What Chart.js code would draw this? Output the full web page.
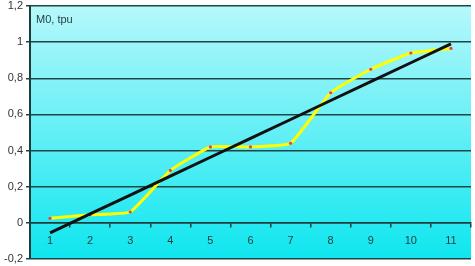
<!DOCTYPE html>
<html>
<head>
<meta charset="utf-8">
<script src="https://cdn.jsdelivr.net/npm/chart.js@4.4.1/dist/chart.umd.min.js"></script>
<style>
    html, body { margin: 0; padding: 0; background: #ffffff; }
    #wrap { width: 475px; height: 266px; position: relative; }
</style>
</head>
<body>
<div id="wrap"><canvas id="grafik"></canvas></div>
<script>
// data
let kategori = ["1", "2", "3", "4", "5", "6", "7", "8", "9", "10", "11"];
let nilai_m0 = [0.025, 0.045, 0.06, 0.29, 0.42, 0.42, 0.44, 0.72, 0.85, 0.94, 0.965];
let nilai_trend = [-0.055, 0.05, 0.154, 0.259, 0.363, 0.468, 0.572, 0.677, 0.781, 0.886, 0.99];
let tick_y = [-0.2, 0, 0.2, 0.4, 0.6, 0.8, 1, 1.2];

// cyan gradient behind the plot area
const latarPlot = {
    id: "latarPlot",
    beforeDraw: function (chart) {
        let ctx = chart.ctx;
        let a = chart.chartArea;
        let grad = ctx.createLinearGradient(0, a.top, 0, a.bottom);
        grad.addColorStop(0, "#b6f8fb");
        grad.addColorStop(1, "#0fe6ef");
        ctx.save();
        ctx.fillStyle = grad;
        ctx.fillRect(a.left, a.top, a.right - a.left, a.bottom - a.top);
        ctx.restore();
    },
    afterDraw: function (chart) {
        let ctx = chart.ctx;
        let a = chart.chartArea;
        ctx.save();
        ctx.font = "11px 'Liberation Sans', Arial, sans-serif";
        ctx.fillStyle = "#1e3c3c";
        ctx.textBaseline = "middle";
        ctx.fillText("M0, tpu", a.left + 6, 20);
        ctx.restore();
    },
};

new Chart(document.getElementById("grafik"), {
    type: "line",
    data: {
        labels: kategori,
        datasets: [
            {
                label: "M0",
                data: nilai_m0,
                borderColor: "#ffff00",
                borderWidth: 3,
                tension: 0.12,
                pointRadius: 1.6,
                pointBackgroundColor: "#e0405a",
                pointBorderWidth: 0,
                order: 2,
            },
            {
                label: "trend",
                data: nilai_trend,
                borderColor: "#111111",
                borderWidth: 3,
                tension: 0,
                pointRadius: 0,
                order: 1,
            },
        ],
    },
    options: {
        responsive: true,
        maintainAspectRatio: false,
        animation: false,
        layout: { padding: { left: 0, right: 2, top: 6, bottom: 7 } },
        plugins: {
            legend: { display: false },
            tooltip: { enabled: false },
        },
        scales: {
            x: {
                position: { y: 0 },
                offset: true,
                grid: {
                    offset: true,
                    drawOnChartArea: false,
                    drawTicks: true,
                    tickLength: 4,
                    color: "#1e3c3c",
                    lineWidth: 1.5,
                },
                border: { color: "#1e3c3c", width: 1.5 },
                ticks: {
                    color: "#1e3c3c",
                    padding: 8,
                    maxRotation: 0,
                    font: { family: "'Liberation Sans', Arial, sans-serif", size: 11 },
                },
            },
            y: {
                min: -0.2,
                max: 1.2,
                afterBuildTicks: function (scale) {
                    scale.ticks = tick_y.map(function (v) { return { value: v }; });
                },
                afterFit: function (scale) {
                    scale.width = 30;
                    scale.paddingTop = 0;
                    scale.paddingBottom = 0;
                },
                grid: {
                    color: "#1e4646",
                    lineWidth: 1.5,
                    tickLength: 4,
                },
                border: { color: "#1e3c3c", width: 2 },
                ticks: {
                    color: "#333333",
                    padding: 3,
                    font: { family: "'Liberation Sans', Arial, sans-serif", size: 11 },
                    callback: function (v) {
                        return String(Math.round(v * 10) / 10).replace(".", ",");
                    },
                },
            },
        },
    },
    plugins: [latarPlot],
});
</script>
</body>
</html>
